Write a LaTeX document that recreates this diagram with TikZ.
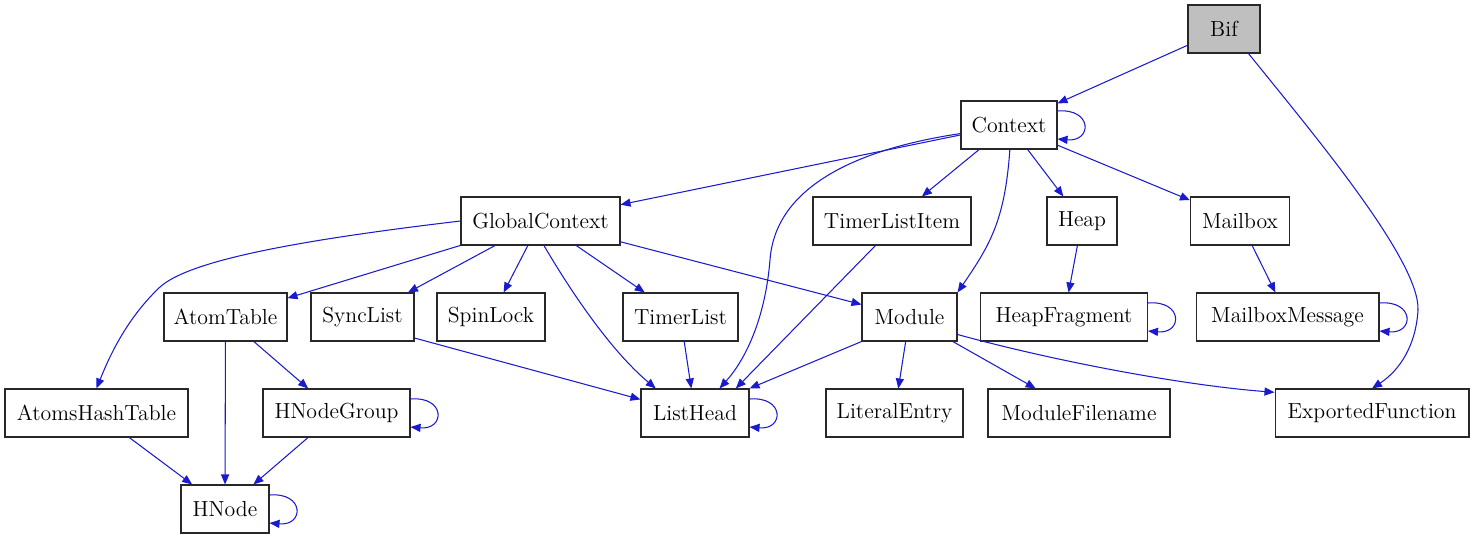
\documentclass[tikz,border=0pt]{standalone}
\usetikzlibrary{arrows.meta,calc}
\definecolor{edgeblue}{RGB}{26,26,206}
\definecolor{boxline}{RGB}{40,40,40}
\definecolor{rootfill}{RGB}{191,191,191}
\begin{document}
\begin{tikzpicture}[x=0.02cm,y=-0.02cm,
  cls/.style={draw=boxline,line width=0.6pt,minimum height=0.96cm,inner sep=0pt,
    font=\fontsize{12.4}{15}\selectfont},
  root/.style={cls,fill=rootfill},
  edge/.style={draw=edgeblue,line width=0.6pt,-{Triangle[length=5.7pt,width=4.6pt]}}]
\useasboundingbox (0,0) rectangle (1475,539);
\node[root,minimum width=1.44cm] (bif) at (1224,29) {Bif};
\node[cls,minimum width=1.92cm] (ctx) at (1009,125) {Context};
\node[cls,minimum width=3.18cm] (gctx) at (540.5,221) {GlobalContext};
\node[cls,minimum width=3.16cm] (tli) at (892,221) {TimerListItem};
\node[cls,minimum width=1.40cm] (heap) at (1082,221) {Heap};
\node[cls,minimum width=1.98cm] (mbox) at (1240,221) {Mailbox};
\node[cls,minimum width=2.46cm] (atab) at (225.5,317) {AtomTable};
\node[cls,minimum width=2.06cm] (sync) at (362.5,317) {SyncList};
\node[cls,minimum width=2.16cm] (spin) at (491,317) {SpinLock};
\node[cls,minimum width=2.30cm] (tlist) at (680.5,317) {TimerList};
\node[cls,minimum width=1.90cm] (mod) at (909.5,317) {Module};
\node[cls,minimum width=3.34cm] (hfrag) at (1064,317) {HeapFragment};
\node[cls,minimum width=3.66cm] (mmsg) at (1287.5,317) {MailboxMessage};
\node[cls,minimum width=3.66cm] (aht) at (96.5,413) {AtomsHashTable};
\node[cls,minimum width=2.94cm] (hng) at (336.5,413) {HNodeGroup};
\node[cls,minimum width=2.16cm] (lhead) at (695,413) {ListHead};
\node[cls,minimum width=2.74cm] (lit) at (894.5,413) {LiteralEntry};
\node[cls,minimum width=3.64cm] (mfile) at (1079,413) {ModuleFilename};
\node[cls,minimum width=3.88cm] (expf) at (1372,413) {ExportedFunction};
\node[cls,minimum width=1.76cm] (hnode) at (225,509) {HNode};
\draw[edge] (bif) -- (ctx);
\draw[edge] (bif.-45) .. controls (1310,130) and (1420,260) .. (1418,310)
  .. controls (1416,345) and (1400,370) .. (expf.north);
\draw[edge] ($(ctx.east)+(0,-14)$) .. controls +(35,-3) and +(35,3) .. ($(ctx.east)+(0,14)$);
\draw[edge] (ctx) -- (gctx);
\draw[edge] (ctx.190) .. controls (850,150) and (775,190) .. (770,260)
  .. controls (765,320) and (745,360) .. (lhead.45);
\draw[edge] (ctx) -- (tli);
\draw[edge] (ctx.-88) .. controls (1005,220) and (990,245) .. (mod.north east);
\draw[edge] (ctx) -- (heap);
\draw[edge] (ctx) -- (mbox);
\draw[edge] (gctx.180) .. controls (300,240) and (190,260) .. (160,287)
  .. controls (125,320) and (108,360) .. (aht.north);
\draw[edge] (gctx) -- (atab);
\draw[edge] (gctx) -- (sync);
\draw[edge] (gctx) -- (spin);
\draw[edge] (gctx.-82) .. controls (570,290) and (610,350) .. (lhead.148);
\draw[edge] (gctx) -- (tlist);
\draw[edge] (gctx) -- (mod);
\draw[edge] (tli.-124) -- (lhead.31);
\draw[edge] (heap) -- (hfrag);
\draw[edge] ($(hfrag.east)+(0,-14)$) .. controls +(35,-3) and +(35,3) .. ($(hfrag.east)+(0,14)$);
\draw[edge] (mbox) -- (mmsg);
\draw[edge] ($(mmsg.east)+(0,-14)$) .. controls +(35,-3) and +(35,3) .. ($(mmsg.east)+(0,14)$);
\draw[edge] (atab) -- (hnode);
\draw[edge] (atab) -- (hng);
\draw[edge] (sync.-22) -- (lhead.166);
\draw[edge] (tlist) -- (lhead);
\draw[edge] (mod.south west) -- (lhead.north east);
\draw[edge] (mod) -- (lit);
\draw[edge] (mod) -- (mfile);
\draw[edge] (mod.-20) .. controls (1050,360) and (1180,385) .. (expf.168);
\draw[edge] ($(lhead.east)+(0,-14)$) .. controls +(35,-3) and +(35,3) .. ($(lhead.east)+(0,14)$);
\draw[edge] ($(hng.east)+(0,-14)$) .. controls +(35,-3) and +(35,3) .. ($(hng.east)+(0,14)$);
\draw[edge] (aht) -- (hnode);
\draw[edge] (hng) -- (hnode);
\draw[edge] ($(hnode.east)+(0,-14)$) .. controls +(35,-3) and +(35,3) .. ($(hnode.east)+(0,14)$);
\end{tikzpicture}
\end{document}
